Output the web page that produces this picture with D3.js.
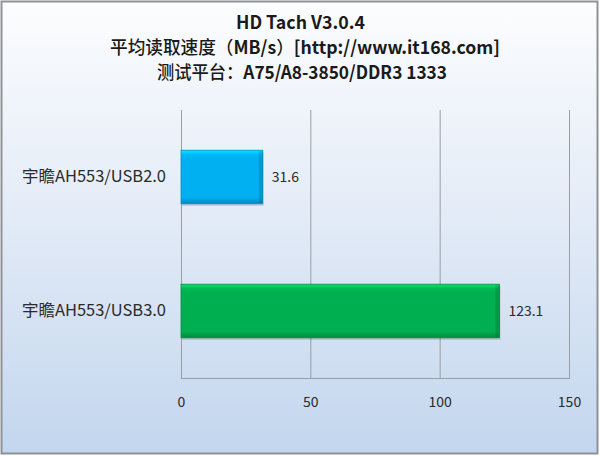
<!DOCTYPE html>
<html><head><meta charset="utf-8">
<script src="https://cdn.jsdelivr.net/npm/d3@7"></script>
<style>html,body{margin:0;padding:0;background:#fff;}svg{display:block;}</style>
</head><body>
<svg id="c" width="600" height="456"></svg>
<script>
const titleLines = ["HD Tach V3.0.4", "平均读取速度（MB/s）[http://www.it168.com]", "测试平台：A75/A8-3850/DDR3 1333"];
const categories = ["宇瞻AH553/USB2.0", "宇瞻AH553/USB3.0"];
const values = [31.6, 123.1];
const barColors = ["#00b0f0", "#00b050"];
const tickValues = [0, 50, 100, 150];

const svg = d3.select("#c");
const font = "'Noto Sans CJK SC', 'Open Sans', sans-serif";
const defs = svg.append("defs");
const bg = defs.append("linearGradient").attr("id","bg").attr("x1",0).attr("y1",0).attr("x2",0).attr("y2",1);
bg.append("stop").attr("offset","0%").attr("stop-color","#fcfdfe");
bg.append("stop").attr("offset","40%").attr("stop-color","#e7eef8");
bg.append("stop").attr("offset","100%").attr("stop-color","#c3d6ee");

svg.append("rect").attr("x",1.5).attr("y",1.5).attr("width",596).attr("height",452)
  .attr("fill","url(#bg)").attr("stroke","#8e9296").attr("stroke-width",2);

const x = d3.scaleLinear().domain([0,150]).range([181, 569]);
const y = d3.scaleBand().domain(categories).range([110, 378]).paddingInner(0.6).paddingOuter(0.3);

function runs(str){
  const out=[]; const re=/[\u3000-\u9fff\uff00-\uffef]+|[^\u3000-\u9fff\uff00-\uffef]+/g;
  let m; while((m=re.exec(str))) out.push({t:m[0], cjk:/[\u3000-\u9fff\uff00-\uffef]/.test(m[0])});
  return out;
}
function titleLine(str, cx, yb, width, size){
  const el = svg.append("text").attr("x",cx).attr("y",yb).attr("text-anchor","middle")
    .attr("font-family",font).attr("font-size",size).attr("fill","#1a1a1a")
    .attr("textLength",width).attr("lengthAdjust","spacingAndGlyphs");
  runs(str).forEach(r=>{
    el.append("tspan").attr("font-weight", r.cjk ? 500 : "bold").text(r.t);
  });
  return el;
}
titleLine(titleLines[0], 300.5, 29, 129, 18);
titleLine(titleLines[1], 305, 54, 390, 18);
titleLine(titleLines[2], 302, 79, 290, 18);

const grid = svg.append("g");
grid.selectAll("line.g").data(tickValues).join("line")
  .attr("x1",d=>x(d)+0.5).attr("x2",d=>x(d)+0.5).attr("y1",110).attr("y2",378)
  .attr("stroke","#9a9ea3").attr("stroke-width",1);
grid.append("line").attr("x1",x(0)).attr("x2",x(150)+1).attr("y1",378.5).attr("y2",378.5)
  .attr("stroke","#9a9ea3");

const xAxis = d3.axisBottom(x).tickValues(tickValues).tickSize(0).tickPadding(0);
const gx = svg.append("g").attr("transform","translate(0,397)").call(xAxis);
gx.select(".domain").remove();
gx.selectAll("text").attr("font-family",font).attr("font-size",14).attr("fill","#2a2a2a").attr("dy","0.71em");

categories.forEach((c,i)=>{
  const gr = defs.append("linearGradient").attr("id","bar"+i).attr("x1",0).attr("y1",0).attr("x2",0).attr("y2",1);
  const col = d3.color(barColors[i]);
  gr.append("stop").attr("offset","0%").attr("stop-color",col.brighter(0.8));
  gr.append("stop").attr("offset","8%").attr("stop-color",col.brighter(0.15));
  gr.append("stop").attr("offset","15%").attr("stop-color",barColors[i]);
  gr.append("stop").attr("offset","88%").attr("stop-color",barColors[i]);
  gr.append("stop").attr("offset","100%").attr("stop-color",col.darker(0.7));
});
const bars = svg.append("g");
bars.selectAll("rect.sh").data(values).join("rect")
  .attr("x",x(0)+1).attr("y",(d,i)=>y(categories[i])+2)
  .attr("width",d=>x(d)-x(0)).attr("height",y.bandwidth())
  .attr("fill","#000").attr("opacity",0.15);
bars.selectAll("rect.b").data(values).join("rect")
  .attr("x",x(0)).attr("y",(d,i)=>y(categories[i]))
  .attr("width",d=>x(d)-x(0)).attr("height",y.bandwidth())
  .attr("fill",(d,i)=>`url(#bar${i})`)
  .attr("stroke",(d,i)=>d3.color(barColors[i]).darker(0.6)).attr("stroke-width",0.8);
bars.selectAll("rect.r").data(values).join("rect")
  .attr("x",d=>x(d)-4).attr("y",(d,i)=>y(categories[i])+1)
  .attr("width",4).attr("height",y.bandwidth()-2)
  .attr("fill","#000").attr("opacity",0.12);

svg.append("g").selectAll("text").data(values).join("text")
  .attr("x",d=>x(d)+9).attr("y",(d,i)=>y(categories[i])+y.bandwidth()/2)
  .attr("dy","0.35em").attr("font-family",font).attr("font-size",14).attr("fill","#2a2a2a")
  .text(d=>d.toFixed(1));

const yAxis = d3.axisLeft(y).tickSize(0).tickPadding(15);
const gy = svg.append("g").attr("transform",`translate(${x(0)},0)`).call(yAxis);
gy.select(".domain").remove();
gy.selectAll("text").attr("font-family",font).attr("font-size",16).attr("fill","#2a2a2a")
  .attr("textLength",144).attr("lengthAdjust","spacingAndGlyphs");
</script>
</body></html>
